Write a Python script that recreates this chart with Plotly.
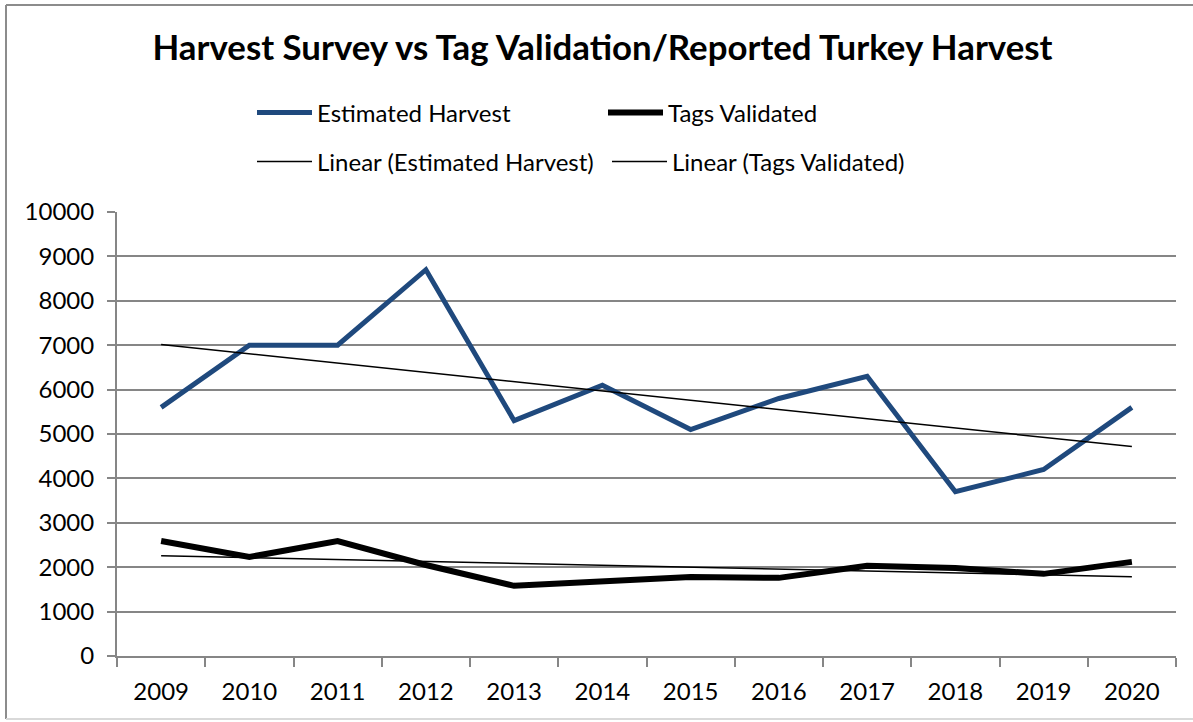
import numpy as np
import plotly.graph_objects as go

years = ["2009", "2010", "2011", "2012", "2013", "2014", "2015", "2016", "2017", "2018", "2019", "2020"]
estimated_harvest = [5600, 7000, 7000, 8700, 5300, 6100, 5100, 5800, 6300, 3700, 4200, 5600]
tags_validated = [2590, 2230, 2590, 2050, 1580, 1690, 1780, 1760, 2030, 1980, 1850, 2120]
y_ticks = [0, 1000, 2000, 3000, 4000, 5000, 6000, 7000, 8000, 9000, 10000]
y_tick_text = [str(v) for v in y_ticks]


def linear_trend(vals):
    idx = np.arange(len(vals))
    m, c = np.polyfit(idx, vals, 1)
    return list(m * idx + c)


FONT = "Lato"
W, H = 1193, 722
ML, MR, MT, MB = 117, 17, 212, 66
PW, PH = W - ML - MR, H - MT - MB

fig = go.Figure()
fig.add_trace(go.Scatter(x=years, y=estimated_harvest, mode="lines", name="Estimated Harvest",
                         line=dict(color="#1F497D", width=5), legend="legend"))
fig.add_trace(go.Scatter(x=years, y=tags_validated, mode="lines", name="Tags Validated",
                         line=dict(color="#000000", width=6), legend="legend"))
fig.add_trace(go.Scatter(x=years, y=linear_trend(estimated_harvest), mode="lines",
                         name="Linear (Estimated Harvest)",
                         line=dict(color="#000000", width=1.5), legend="legend2"))
fig.add_trace(go.Scatter(x=years, y=linear_trend(tags_validated), mode="lines",
                         name="Linear (Tags Validated)",
                         line=dict(color="#000000", width=1.5), legend="legend2"))


def px2px(xpx):
    return (xpx - ML) / PW


def py2py(ypx):
    return (H - MB - ypx) / PH


border = dict(color="#8C8C8C", width=2)
fig.update_layout(
    width=W, height=H,
    margin=dict(l=ML, r=MR, t=MT, b=MB, autoexpand=False),
    paper_bgcolor="white", plot_bgcolor="white",
    font=dict(family=FONT, color="#000000"),
    title=dict(text="<b>Harvest Survey vs Tag Validation/Reported Turkey Harvest</b>",
               x=(155 + 1050) / 2 / W, xanchor="center",
               y=1 - 48 / H, yanchor="middle",
               font=dict(family=FONT, size=34.8, color="#000000")),
    legend=dict(orientation="h", x=px2px(252), xanchor="left", y=py2py(113), yanchor="middle",
                entrywidth=281, entrywidthmode="pixels", itemwidth=55,
                font=dict(family=FONT, size=24), bgcolor="rgba(0,0,0,0)"),
    legend2=dict(orientation="h", x=px2px(252), xanchor="left", y=py2py(162), yanchor="middle",
                 entrywidth=285, entrywidthmode="pixels", itemwidth=55,
                 font=dict(family=FONT, size=24), bgcolor="rgba(0,0,0,0)"),
    xaxis=dict(type="category", showgrid=False, showline=True, linecolor="#868686", linewidth=2,
               ticks="outside", tickson="boundaries", ticklen=9, tickcolor="#868686", tickwidth=2,
               tickfont=dict(family=FONT, size=24), ticklabelstandoff=13, automargin=False,
               range=[-0.5, len(years) - 0.5]),
    yaxis=dict(range=[0, 10000], tickvals=y_ticks, ticktext=y_tick_text,
               showgrid=True, gridcolor="#868686", gridwidth=2,
               showline=True, linecolor="#868686", linewidth=2, zeroline=False,
               ticks="outside", ticklen=8, tickcolor="#868686", tickwidth=2,
               tickfont=dict(family=FONT, size=24), ticklabelstandoff=8, automargin=False),
    shapes=[
        dict(type="line", xref="paper", yref="paper", x0=px2px(6), x1=px2px(6),
             y0=py2py(719), y1=py2py(5), line=border, layer="below"),
        dict(type="line", xref="paper", yref="paper", x0=px2px(6), x1=px2px(1230),
             y0=py2py(5), y1=py2py(5), line=border, layer="below"),
        dict(type="line", xref="paper", yref="paper", x0=px2px(6), x1=px2px(1230),
             y0=py2py(719), y1=py2py(719), line=dict(color="#D9D9D9", width=2), layer="below"),
    ],
)

fig.write_html("out.html", config={"displayModeBar": False},
               post_script="document.body.style.margin='0';document.body.style.overflow='hidden';")
